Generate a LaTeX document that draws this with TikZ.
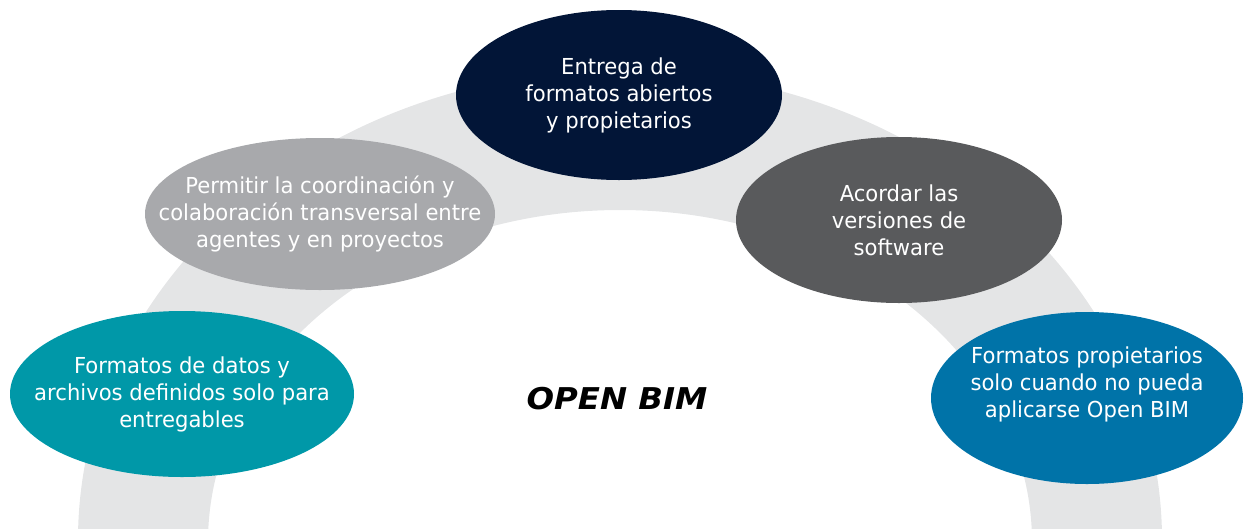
\documentclass[tikz,border=0pt]{standalone}
\usepackage{fontspec}
\setmainfont{DejaVu Sans}[FakeStretch=0.96]
\newfontfamily\titlefont{DejaVu Sans}[FakeStretch=1.08]
\usepackage{xcolor}
\usetikzlibrary{shapes.geometric}

\definecolor{ringgrey}{HTML}{E4E5E6}
\definecolor{navyblue}{HTML}{021537}
\definecolor{lightgrey}{HTML}{A8A9AC}
\definecolor{darkgrey}{HTML}{595A5C}
\definecolor{tealblue}{HTML}{0098A8}
\definecolor{steelblue}{HTML}{0073A8}

\begin{document}
\begin{tikzpicture}[
  x=1pt, y=-1pt,
  goal/.style={ellipse,inner xsep=-80pt,inner ysep=0pt,text=white,align=center,
    font=\fontsize{22}{27}\selectfont},
  title/.style={font=\titlefont\fontsize{30}{36}\selectfont\bfseries\itshape}
]
\useasboundingbox (0,0) rectangle (1244,528);

% ring behind the goals
\begin{scope}
\clip (0,0) rectangle (1244,528);
\fill[ringgrey,even odd rule] (620,540) ellipse[x radius=542,y radius=470]
  (620,542) ellipse[x radius=412,y radius=332];
\end{scope}

\node[goal,fill=navyblue,minimum width=326pt,minimum height=170pt] (entrega) at (619,95)
  {Entrega de\\formatos abiertos\\y propietarios};
\node[goal,fill=lightgrey,minimum width=350pt,minimum height=152pt] (coordinacion) at (320,214)
  {Permitir la coordinación y\\colaboración transversal entre\\agentes y en proyectos};
\node[goal,fill=darkgrey,minimum width=326pt,minimum height=166pt] (versiones) at (899,220)
  {Acordar las\\versiones de\\software};
\node[goal,fill=tealblue,minimum width=344pt,minimum height=166pt] (formatos) at (182,394)
  {Formatos de datos y\\archivos definidos solo para\\entregables};
\node[goal,fill=steelblue,minimum width=312pt,minimum height=172pt] (propietarios) at (1087,398)
  {Formatos propietarios\\solo cuando no pueda\\aplicarse Open BIM\\[5pt]\mbox{}};

\node[title] (openbim) at (617,399) {OPEN BIM};
\end{tikzpicture}
\end{document}
